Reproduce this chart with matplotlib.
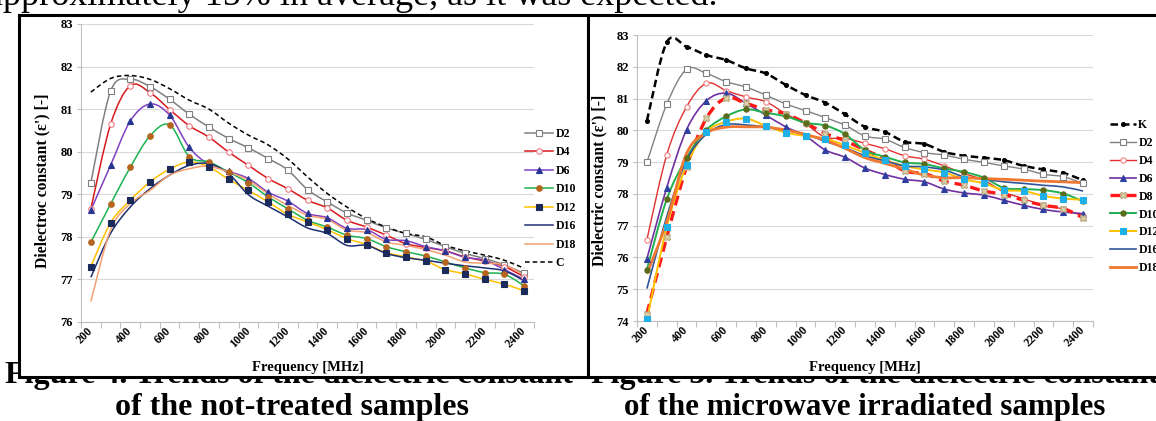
import numpy as np
import matplotlib
matplotlib.use('Agg')
import matplotlib.pyplot as plt
from matplotlib.path import Path
from matplotlib.patches import PathPatch, Rectangle
from matplotlib.lines import Line2D

# ---------------- data ----------------
freq = [200, 300, 400, 500, 600, 700, 800, 900, 1000, 1100, 1200, 1300,
        1400, 1500, 1600, 1700, 1800, 1900, 2000, 2100, 2200, 2300, 2400]
freq_labels = [200, 400, 600, 800, 1000, 1200, 1400, 1600, 1800, 2000, 2200, 2400]

# left chart: not-treated samples
L_D2 = [79.27, 81.42, 81.70, 81.53, 81.23, 80.88, 80.58, 80.31, 80.09, 79.84, 79.57, 79.11,
        78.82, 78.56, 78.39, 78.21, 78.08, 77.94, 77.77, 77.61, 77.49, 77.34, 77.14]
L_D4 = [78.66, 80.64, 81.55, 81.39, 80.99, 80.61, 80.34, 79.99, 79.68, 79.37, 79.13, 78.86,
        78.68, 78.39, 78.23, 78.04, 77.84, 77.75, 77.67, 77.53, 77.43, 77.30, 77.06]
L_D6 = [78.63, 79.68, 80.72, 81.12, 80.86, 80.10, 79.70, 79.54, 79.37, 79.05, 78.84, 78.55,
        78.45, 78.20, 78.17, 77.94, 77.91, 77.77, 77.67, 77.52, 77.45, 77.23, 77.00]
L_D10 = [77.87, 78.77, 79.63, 80.37, 80.63, 79.88, 79.76, 79.52, 79.27, 78.94, 78.66, 78.39,
         78.23, 78.04, 77.96, 77.77, 77.65, 77.55, 77.41, 77.27, 77.16, 77.12, 76.85]
L_D12 = [77.30, 78.33, 78.86, 79.29, 79.59, 79.76, 79.64, 79.35, 79.09, 78.82, 78.53, 78.35,
         78.17, 77.96, 77.82, 77.63, 77.53, 77.43, 77.23, 77.13, 77.00, 76.89, 76.73]
L_D16 = [77.05, 78.08, 78.70, 79.13, 79.45, 79.68, 79.72, 79.48, 78.99, 78.72, 78.47, 78.21,
         78.08, 77.80, 77.80, 77.61, 77.51, 77.45, 77.38, 77.32, 77.27, 77.20, 76.97]
L_D18 = [76.48, 78.16, 78.78, 79.09, 79.45, 79.60, 79.66, 79.52, 79.33, 79.01, 78.74, 78.51,
         78.41, 78.16, 78.10, 77.88, 77.80, 77.70, 77.57, 77.41, 77.38, 77.34, 77.10]
L_C = [81.40, 81.72, 81.79, 81.70, 81.48, 81.21, 81.00, 80.67, 80.39, 80.16, 79.83, 79.41,
       79.02, 78.70, 78.43, 78.23, 78.08, 78.00, 77.80, 77.67, 77.57, 77.45, 77.26]

# right chart: microwave irradiated samples
R_K = [80.30, 82.77, 82.63, 82.37, 82.21, 81.95, 81.79, 81.43, 81.11, 80.87, 80.50, 80.11,
       79.95, 79.64, 79.57, 79.32, 79.20, 79.14, 79.06, 78.88, 78.77, 78.66, 78.43]
R_D2 = [78.99, 80.82, 81.92, 81.79, 81.53, 81.36, 81.11, 80.83, 80.62, 80.40, 80.16, 79.82,
        79.72, 79.46, 79.30, 79.22, 79.09, 78.99, 78.88, 78.78, 78.62, 78.54, 78.33]
R_D4 = [76.56, 79.23, 80.74, 81.48, 81.25, 81.05, 80.90, 80.52, 80.20, 79.78, 79.75, 79.59,
        79.42, 79.20, 79.09, 78.88, 78.64, 78.43, 78.06, 77.85, 77.64, 77.52, 77.30]
R_D6 = [75.96, 78.20, 80.02, 80.93, 81.17, 80.85, 80.48, 80.11, 79.82, 79.38, 79.15, 78.81,
        78.61, 78.46, 78.38, 78.15, 78.03, 77.96, 77.80, 77.64, 77.51, 77.43, 77.38]
R_D8 = [74.23, 76.64, 78.85, 80.38, 81.02, 80.85, 80.65, 80.52, 80.23, 79.90, 79.67, 79.38,
        79.11, 78.72, 78.64, 78.40, 78.27, 78.09, 77.98, 77.80, 77.64, 77.54, 77.25]
R_D10 = [75.62, 77.83, 79.13, 80.01, 80.44, 80.66, 80.55, 80.44, 80.24, 80.15, 79.88, 79.37,
         79.17, 78.99, 78.94, 78.80, 78.69, 78.51, 78.19, 78.15, 78.12, 78.01, 77.77]
R_D12 = [74.05, 76.96, 78.90, 79.95, 80.27, 80.37, 80.14, 79.93, 79.82, 79.74, 79.53, 79.29,
         79.06, 78.88, 78.77, 78.67, 78.46, 78.33, 78.12, 78.09, 77.94, 77.85, 77.82]
R_D16 = [75.02, 77.28, 79.06, 79.88, 80.18, 80.17, 80.10, 80.00, 79.88, 79.65, 79.45, 79.20,
         79.04, 78.88, 78.85, 78.75, 78.54, 78.46, 78.38, 78.33, 78.27, 78.22, 78.09]
R_D18 = [75.49, 77.12, 79.27, 79.92, 80.10, 80.11, 80.10, 80.01, 79.87, 79.69, 79.43, 79.14,
         78.96, 78.78, 78.59, 78.51, 78.51, 78.48, 78.46, 78.43, 78.40, 78.38, 78.35]

# ---------------- layout helpers ----------------
W, H = 1156, 421
SERIF = 'Liberation Serif'


def fx(px):
    return px / W


def fy(py):
    return 1 - py / H


def smooth_path(x, y):
    """Excel-like smoothed line (cubic Bezier through the points)."""
    x = np.asarray(x, float)
    y = np.asarray(y, float)
    n = len(x)
    verts = [(x[0], y[0])]
    codes = [Path.MOVETO]
    for i in range(n - 1):
        xp, yp = (x[i - 1], y[i - 1]) if i > 0 else (x[i], y[i])
        xn, yn = (x[i + 2], y[i + 2]) if i + 2 < n else (x[i + 1], y[i + 1])
        c1 = (x[i] + (x[i + 1] - xp) / 6, y[i] + (y[i + 1] - yp) / 6)
        c2 = (x[i + 1] - (xn - x[i]) / 6, y[i + 1] - (yn - y[i]) / 6)
        verts += [c1, c2, (x[i + 1], y[i + 1])]
        codes += [Path.CURVE4] * 3
    return Path(verts, codes)


def draw_series(ax, y, color, lw=1.1, ls='-', marker=None, mfc=None, mec=None, ms=4, label=None):
    patch = PathPatch(smooth_path(freq, y), fill=False, ec=color, lw=lw, ls=ls,
                      capstyle='butt', joinstyle='round', zorder=3)
    ax.add_patch(patch)
    if marker:
        ax.plot(freq, y, ls='none', marker=marker, mfc=mfc, mec=mec, ms=ms, mew=0.8, zorder=4)
    return Line2D([], [], color=color, lw=lw, ls=ls, marker=marker, mfc=mfc, mec=mec,
                  ms=ms, mew=0.8, label=label)


def setup(ax, ymin, ymax, ylabel):
    ax.set_xlim(150, 2450)
    ax.set_ylim(ymin, ymax)
    ax.set_yticks(range(ymin, ymax + 1))
    ax.set_xticks(freq_labels)
    ax.set_xticklabels([str(v) for v in freq_labels])
    ax.set_xticks(np.arange(150, 2451, 100), minor=True)
    ax.tick_params(axis='x', which='major', length=0, pad=5)
    ax.tick_params(axis='x', which='minor', length=4, width=0.8, color='#bfbfbf')
    ax.tick_params(axis='y', which='major', length=3, width=0.8, color='#bfbfbf', pad=3)
    for lab in ax.get_xticklabels():
        lab.set_rotation(45)
        lab.set_ha('right')
        lab.set_va('center')
        lab.set_rotation_mode('anchor')
        lab.set_family(SERIF)
        lab.set_weight('bold')
        lab.set_fontsize(8.5)
    for lab in ax.get_yticklabels():
        lab.set_family(SERIF)
        lab.set_weight('bold')
        lab.set_fontsize(9)
    ax.grid(axis='y', color='#d9d9d9', lw=0.8)
    ax.set_axisbelow(True)
    for s in ('top', 'right'):
        ax.spines[s].set_visible(False)
    for s in ('left', 'bottom'):
        ax.spines[s].set_color('#bfbfbf')
        ax.spines[s].set_linewidth(0.8)
    ax.set_ylabel(ylabel, family=SERIF, weight='bold', fontsize=11.3)
    ax.set_xlabel('Frequency [MHz]', family=SERIF, weight='bold', fontsize=10.5)


fig = plt.figure(figsize=(W / 100, H / 100), dpi=100)
fig.patch.set_facecolor('white')

# ---------------- page background: text partly hidden behind the chart frames ----------------
bg = fig.add_axes([0, 0, 1, 1], zorder=-10)
bg.set_xlim(0, W)
bg.set_ylim(H, 0)
bg.set_axis_off()
bg.text(-13, 5, 'approximately 15% in average, as it was expected.',
        family=SERIF, fontsize=26, va='baseline', ha='left', zorder=1)
bg.text(5, 383, 'Figure 4. Trends of the dielectric constant',
        family=SERIF, weight='bold', fontsize=23, va='baseline', ha='left', zorder=1)
bg.text(591, 383, 'Figure 5. Trends of the dielectric constant',
        family=SERIF, weight='bold', fontsize=23, va='baseline', ha='left', zorder=1)
bg.text(292, 415, 'of the not-treated samples',
        family=SERIF, weight='bold', fontsize=23, va='baseline', ha='center', zorder=1)
bg.text(865, 415, 'of the microwave irradiated samples',
        family=SERIF, weight='bold', fontsize=22.3, va='baseline', ha='center', zorder=1)
# chart frames, drawn over the caption line
bg.add_patch(Rectangle((19, 15), 569, 362, fc='white', ec='black', lw=2.2, zorder=5))
bg.add_patch(Rectangle((588, 15), 600, 362, fc='white', ec='black', lw=2.2, zorder=5))

# ---------------- left chart ----------------
axL = fig.add_axes([fx(81), fy(322), fx(534) - fx(81), fy(24) - fy(322)])
axL.patch.set_alpha(0)
setup(axL, 76, 83, "Dielectroc constant (\u03b5') [-]")
hL = [
    draw_series(axL, L_D2, '#808080', marker='s', mfc='white', mec='#808080', ms=4, label='D2'),
    draw_series(axL, L_D4, '#d7191c', marker='o', mfc='white', mec='#ef7a84', ms=4, label='D4'),
    draw_series(axL, L_D6, '#8040c0', marker='^', mfc='#283593', mec='#283593', ms=4.5, label='D6'),
    draw_series(axL, L_D10, '#1cb350', marker='o', mfc='#b5651d', mec='#b5651d', ms=4, label='D10'),
    draw_series(axL, L_D12, '#ffc000', marker='s', mfc='#1a2a5a', mec='#1a2a5a', ms=4, label='D12'),
    draw_series(axL, L_D16, '#1f3070', label='D16'),
    draw_series(axL, L_D18, '#f4a070', label='D18'),
    draw_series(axL, L_C, 'black', ls=(0, (3, 2)), label='C'),
]
axL.yaxis.set_label_coords(-0.068, 0.475)
axL.xaxis.set_label_coords(0.5, -0.131)
axL.legend(handles=hL, loc='upper left', bbox_to_anchor=(fx(525), fy(128)),
           bbox_transform=fig.transFigure, frameon=False, borderpad=0, borderaxespad=0,
           handlelength=2.4, handletextpad=0.2, labelspacing=0.55,
           prop={'family': SERIF, 'weight': 'bold', 'size': 8.5})

# ---------------- right chart ----------------
axR = fig.add_axes([fx(637), fy(321), fx(1093) - fx(637), fy(35) - fy(321)])
axR.patch.set_alpha(0)
setup(axR, 74, 83, "Dielectric constant (\u03b5') [-]")
hR = [
    draw_series(axR, R_K, 'black', lw=1.8, ls=(0, (3, 1.6)), marker='o', mfc='black', mec='black', ms=2.8, label='K'),
    draw_series(axR, R_D2, '#808080', lw=1.0, marker='s', mfc='white', mec='#808080', ms=3.8, label='D2'),
    draw_series(axR, R_D4, '#e03030', lw=1.0, marker='o', mfc='white', mec='#f08080', ms=3.8, label='D4'),
    draw_series(axR, R_D6, '#7030a0', lw=1.2, marker='^', mfc='#3040a0', mec='#3040a0', ms=4, label='D6'),
    draw_series(axR, R_D8, '#ff1a1a', lw=2.4, ls=(0, (3, 1.8)), marker='X', mfc='#ddd0a8', mec='#b8a880', ms=5, label='D8'),
    draw_series(axR, R_D10, '#20b050', lw=1.4, marker='o', mfc='#5a6b1a', mec='#5a6b1a', ms=3.8, label='D10'),
    draw_series(axR, R_D12, '#ffc000', lw=1.4, marker='s', mfc='#20b0e8', mec='#20b0e8', ms=4, label='D12'),
    draw_series(axR, R_D16, '#2f5597', lw=1.2, label='D16'),
    draw_series(axR, R_D18, '#f07830', lw=2.0, label='D18'),
]
axR.yaxis.set_label_coords(-0.066, 0.49)
axR.xaxis.set_label_coords(0.5, -0.14)
axR.legend(handles=hR, loc='upper left', bbox_to_anchor=(fx(1110), fy(119)),
           bbox_transform=fig.transFigure, frameon=False, borderpad=0, borderaxespad=0,
           handlelength=2.2, handletextpad=0.2, labelspacing=0.5,
           prop={'family': SERIF, 'weight': 'bold', 'size': 8.5})

fig.savefig('out.png', dpi=100)
